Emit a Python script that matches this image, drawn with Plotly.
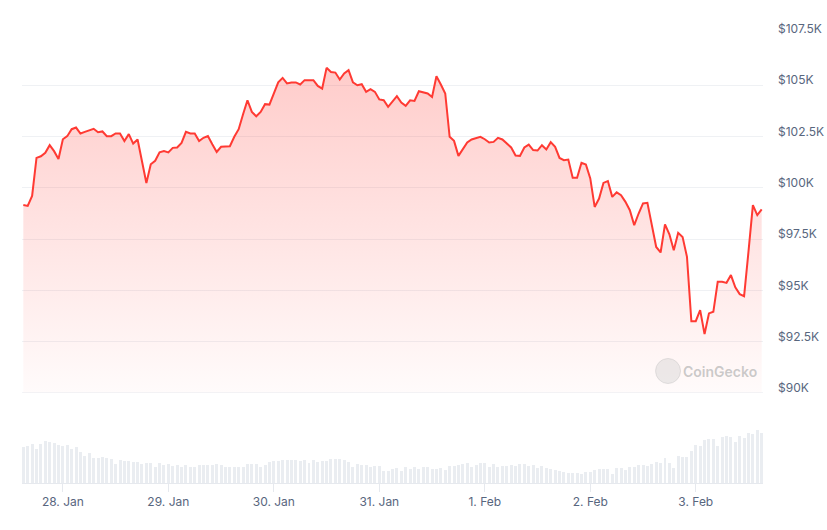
import pandas as pd
import plotly.graph_objects as go

# hourly timestamps, 27 Jan 15:00 -> 3 Feb 15:00 (2025)
start_time = "2025-01-27 15:00"
n_points = 169

# BTC price in thousands of USD
price_k = [
    99.16, 99.12, 99.61, 101.46, 101.54, 101.71, 102.08, 101.79, 101.41, 102.37,
    102.52, 102.86, 102.94, 102.65, 102.73, 102.81, 102.88, 102.71, 102.75, 102.52,
    102.52, 102.65, 102.65, 102.28, 102.62, 102.16, 102.36, 101.30, 100.24, 101.15,
    101.32, 101.73, 101.79, 101.73, 101.95, 101.97, 102.19, 102.73, 102.65, 102.65,
    102.28, 102.44, 102.53, 102.13, 101.75, 102.00, 102.02, 102.03, 102.49, 102.86,
    103.59, 104.27, 103.70, 103.49, 103.70, 104.08, 104.06, 104.59, 105.14, 105.36,
    105.09, 105.14, 105.14, 105.04, 105.25, 105.25, 105.25, 104.97, 104.84, 105.85,
    105.65, 105.62, 105.28, 105.58, 105.74, 105.14, 105.00, 105.05, 104.68, 104.81,
    104.68, 104.31, 104.27, 103.95, 104.24, 104.47, 104.16, 104.00, 104.27, 104.24,
    104.71, 104.65, 104.60, 104.43, 105.44, 105.04, 104.60, 102.49, 102.29, 101.56,
    101.87, 102.21, 102.36, 102.44, 102.49, 102.37, 102.21, 102.24, 102.44, 102.36,
    102.16, 101.97, 101.58, 101.56, 101.97, 102.11, 101.84, 101.82, 102.08, 101.87,
    102.23, 102.00, 101.46, 101.35, 101.38, 100.49, 100.49, 101.22, 101.14, 100.46,
    99.07, 99.48, 100.24, 100.33, 99.56, 99.78, 99.64, 99.32, 98.91, 98.18,
    98.75, 99.24, 99.27, 98.18, 97.12, 96.85, 98.22, 97.74, 96.96, 97.81,
    97.61, 96.64, 93.50, 93.50, 94.04, 92.87, 93.88, 93.96, 95.42, 95.42,
    95.37, 95.75, 95.15, 94.82, 94.72, 96.90, 99.16, 98.67, 98.95,
]

# hourly volume (relative units)
volume = [
    109, 112, 118, 103, 118, 127, 124, 121, 115, 112,
    115, 103, 109, 94, 82, 91, 76, 76, 79, 76,
    73, 58, 70, 67, 67, 64, 64, 58, 61, 61,
    49, 61, 55, 58, 52, 55, 49, 55, 49, 49,
    55, 55, 55, 55, 58, 55, 49, 49, 49, 49,
    49, 58, 58, 58, 49, 55, 64, 67, 67, 70,
    70, 70, 70, 67, 70, 61, 70, 64, 67, 67,
    73, 73, 73, 70, 64, 49, 58, 55, 55, 49,
    52, 52, 37, 37, 43, 46, 37, 49, 43, 49,
    43, 49, 49, 43, 43, 46, 40, 52, 52, 55,
    58, 61, 49, 55, 61, 61, 49, 58, 49, 52,
    52, 55, 52, 58, 58, 52, 55, 46, 52, 46,
    43, 40, 37, 34, 31, 31, 31, 28, 34, 34,
    40, 43, 43, 43, 28, 46, 46, 40, 49, 49,
    55, 55, 52, 58, 64, 61, 76, 61, 46, 82,
    79, 79, 97, 115, 112, 130, 133, 133, 112, 139,
    142, 139, 124, 142, 136, 151, 148, 160, 151,
]

y_tick_vals = [90, 92.5, 95, 97.5, 100, 102.5, 105, 107.5]
y_tick_text = ["$90K", "$92.5K", "$95K", "$97.5K", "$100K", "$102.5K", "$105K", "$107.5K"]

times = pd.date_range(start_time, periods=n_points, freq="h")
t0 = times[0]
x_range = [t0 - pd.Timedelta(minutes=18), t0 + pd.Timedelta(hours=168, minutes=18)]

fig = go.Figure()

fig.add_trace(go.Bar(
    x=times, y=volume, xaxis="x2", yaxis="y2",
    marker=dict(color="#eaedf1", line=dict(width=0)),
    width=2450000, hoverinfo="skip",
))

fig.add_trace(go.Scatter(
    x=times, y=price_k, mode="lines",
    line=dict(color="#ff3a33", width=2),
    fill="tozeroy",
    fillgradient=dict(
        type="vertical",
        start=90, stop=106,
        colorscale=[[0, "rgba(255,58,51,0.02)"], [1, "rgba(255,58,51,0.26)"]],
    ),
    hoverinfo="skip",
))

tick_font = dict(family="Inter, 'Noto Sans', sans-serif", size=12, color="#58667e")

fig.update_layout(
    width=827, height=530,
    margin=dict(l=22, r=64, t=34, b=47, autoexpand=False),
    paper_bgcolor="white", plot_bgcolor="white",
    showlegend=False, hovermode=False,
    bargap=0,
    xaxis=dict(domain=[0, 1], range=x_range, showticklabels=False, showgrid=False,
               zeroline=False, showline=False, type="date", anchor="y", automargin=False),
    yaxis=dict(domain=[0.2004, 1], range=[90, 107.5], side="right",
               tickvals=y_tick_vals, ticktext=y_tick_text,
               gridcolor="#eff1f4", gridwidth=1, zeroline=False, showline=False,
               ticks="", ticklabelstandoff=14, ticklabelshift=-5, tickfont=tick_font,
               anchor="x", automargin=False),
    xaxis2=dict(domain=[0, 1], range=x_range, matches="x", anchor="y2", type="date",
                showgrid=False, zeroline=False,
                showline=True, linecolor="#e6e9ee", linewidth=1,
                ticks="outside", ticklen=8, tickcolor="#e6e9ee", tickwidth=1,
                tick0="2025-01-28", dtick=86400000, tickformat="%-d. %b",
                tickfont=tick_font, automargin=False),
    yaxis2=dict(domain=[0, 0.118], range=[0, 160], visible=False, anchor="x2",
                automargin=False),
)

# baseline gridline of the price panel, drawn over the fill
fig.add_shape(type="line", xref="x domain", yref="y", x0=0, x1=1, y0=90, y1=90,
              layer="above", line=dict(color="rgba(228,231,236,0.9)", width=1))

# CoinGecko watermark
fig.add_shape(type="circle", xref="paper", yref="paper",
              x0=0.855, x1=0.8887, y0=0.2216, y1=0.2773,
              fillcolor="rgba(200,200,200,0.35)", line=dict(color="rgba(190,190,190,0.4)", width=1))
fig.add_annotation(text="CoinGecko", xref="paper", yref="paper", x=0.942, y=0.2494,
                   xanchor="center", yanchor="middle", showarrow=False,
                   font=dict(family="Inter, 'Noto Sans', sans-serif", size=14,
                             color="rgba(180,180,180,0.7)", weight=600))

fig.write_html("out.html", config={"displayModeBar": False},
               post_script="document.body.style.margin='0';document.body.style.padding='0';")
